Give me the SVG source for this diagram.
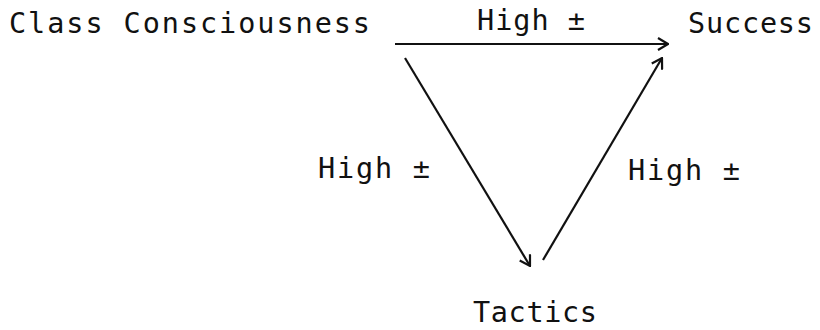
<svg xmlns="http://www.w3.org/2000/svg" width="820" height="330" viewBox="0 0 820 330">
<defs>
<style>
text{font-family:"DejaVu Sans Mono","Liberation Mono",monospace;font-size:28.5px;fill:#111}
.edge{stroke:#111;stroke-width:2.2;fill:none}
</style>
<marker id="ah" viewBox="0 0 12 14" refX="11" refY="7" markerWidth="12" markerHeight="14" markerUnits="userSpaceOnUse" orient="auto">
<path d="M1,1 L11,7 L1,13" fill="none" stroke="#111" stroke-width="2.2"/>
</marker>
</defs>
<rect width="820" height="330" fill="#fff"/>
<g id="class-consciousness"><text x="9" y="33" textLength="361" lengthAdjust="spacing">Class Consciousness</text></g>
<g id="success"><text x="688" y="33" textLength="125" lengthAdjust="spacing">Success</text></g>
<g id="tactics"><text x="473" y="322" textLength="124" lengthAdjust="spacing">Tactics</text></g>
<g id="connectors">
<line class="edge" x1="395" y1="44" x2="668" y2="44" marker-end="url(#ah)"/>
<line class="edge" x1="405" y1="58" x2="530" y2="266" marker-end="url(#ah)"/>
<line class="edge" x1="543" y1="260" x2="662" y2="58" marker-end="url(#ah)"/>
<text x="477" y="30" textLength="108" lengthAdjust="spacing">High ±</text>
<text x="318" y="178" textLength="112" lengthAdjust="spacing">High ±</text>
<text x="628" y="180" textLength="112" lengthAdjust="spacing">High ±</text>
</g>
</svg>
